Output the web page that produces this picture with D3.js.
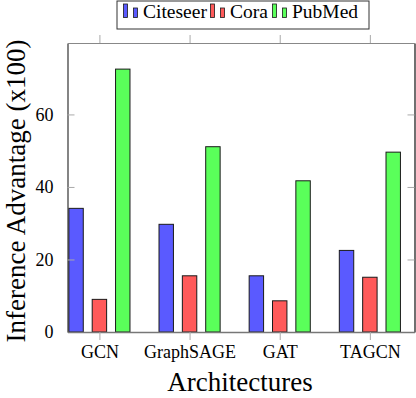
<!DOCTYPE html>
<html>
<head>
<meta charset="utf-8">
<style>
body { margin: 0; background: #fff; }
svg text { font-family: "Liberation Serif", serif; fill: #000; }
.tick text { font-size: 18px; }
</style>
</head>
<body>
<svg id="chart"></svg>
<script src="https://d3js.org/d3.v7.min.js"></script>
<script>
var architectures = ["GCN", "GraphSAGE", "GAT", "TAGCN"];
var datasets = ["Citeseer", "Cora", "PubMed"];
var citeseer = [34.1, 29.7, 15.5, 22.5];
var cora = [9.0, 15.5, 8.6, 15.1];
var pubmed = [72.5, 51.1, 41.7, 49.6];
var yTicks = [0, 20, 40, 60];
var colors = ["#5a5aff", "#ff5a5a", "#5aff5a"];

var series = [citeseer, cora, pubmed];
var width = 416, height = 398;
var plotLeft = 67.5, plotRight = 414.5, plotTop = 43, plotBottom = 332;

var svg = d3.select("#chart").attr("width", width).attr("height", height);

var x = d3.scaleLinear().domain([-0.354, 3.495]).range([plotLeft, plotRight]);
var y = d3.scaleLinear().domain([0, 79.7]).range([plotBottom, plotTop]);

var offset = 0.259, barW = 0.16;

// bars
series.forEach(function(vals, s) {
  svg.append("g").selectAll("rect")
    .data(vals)
    .enter().append("rect")
      .attr("x", (d, i) => x(i + (s - 1) * offset - barW / 2))
      .attr("width", x(barW) - x(0))
      .attr("y", d => y(d))
      .attr("height", d => y(0) - y(d))
      .attr("fill", colors[s])
      .attr("stroke", "#1a1a1a")
      .attr("stroke-width", 1);
});

// y axes (ticks inside)
var yAxisL = svg.append("g")
  .attr("transform", `translate(${plotLeft},0)`)
  .call(d3.axisLeft(y).tickValues(yTicks).tickSizeInner(-7).tickSizeOuter(0).tickPadding(14));
yAxisL.select(".domain").attr("stroke", "#333").attr("stroke-width", 1.2);
yAxisL.selectAll(".tick line").attr("stroke", "#aaa");

var yAxisR = svg.append("g")
  .attr("transform", `translate(${plotRight},0)`)
  .call(d3.axisRight(y).tickValues(yTicks).tickSizeInner(-7).tickSizeOuter(0).tickFormat(""));
yAxisR.select(".domain").attr("stroke", "#111").attr("stroke-width", 1.2);
yAxisR.selectAll(".tick line").attr("stroke", "#aaa");

// x axes (ticks outside)
var xAxisB = svg.append("g")
  .attr("transform", `translate(0,${plotBottom})`)
  .call(d3.axisBottom(x).tickValues(d3.range(architectures.length))
    .tickFormat(i => architectures[i]).tickSizeInner(8).tickSizeOuter(0).tickPadding(5));
xAxisB.select(".domain").attr("stroke", "#777").attr("stroke-width", 1.5);
xAxisB.selectAll(".tick line").attr("stroke", "#aaa");

var xAxisT = svg.append("g")
  .attr("transform", `translate(0,${plotTop})`)
  .call(d3.axisTop(x).tickValues(d3.range(architectures.length))
    .tickFormat("").tickSizeInner(8).tickSizeOuter(0));
xAxisT.select(".domain").attr("stroke", "#888").attr("stroke-width", 1.2);
xAxisT.selectAll(".tick line").attr("stroke", "#aaa");

svg.selectAll(".tick text").attr("font-family", "Liberation Serif").attr("font-size", 18.5);

// axis titles
svg.append("text")
  .attr("x", (plotLeft + plotRight) / 2 - 1)
  .attr("y", 391)
  .attr("text-anchor", "middle")
  .style("font-size", "27px")
  .text("Architectures");

svg.append("text")
  .attr("transform", "translate(25,191) rotate(-90)")
  .attr("text-anchor", "middle")
  .style("font-size", "27px")
  .text("Inference Advantage (x100)");

// legend
var legend = svg.append("g");
legend.append("rect")
  .attr("x", 117).attr("y", 1)
  .attr("width", 252).attr("height", 28)
  .attr("fill", "#fff").attr("stroke", "#333").attr("stroke-width", 1);

var legendX = [123, 210, 272];
datasets.forEach(function(name, s) {
  var g = legend.append("g").attr("transform", `translate(${legendX[s]},0)`);
  g.append("rect").attr("x", 0.5).attr("y", 4).attr("width", 4).attr("height", 13.5)
    .attr("fill", colors[s]).attr("stroke", "#1a1a1a").attr("stroke-width", 0.8);
  g.append("rect").attr("x", 10.5).attr("y", 8).attr("width", 4).attr("height", 9.5)
    .attr("fill", colors[s]).attr("stroke", "#1a1a1a").attr("stroke-width", 0.8);
  g.append("text").attr("x", 20).attr("y", 18)
    .style("font-family", "Liberation Serif")
    .style("font-size", "19.5px")
    .text(name);
});
</script>
</body>
</html>
